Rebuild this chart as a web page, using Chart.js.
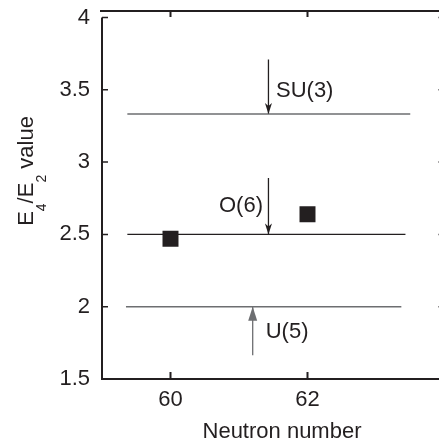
<!DOCTYPE html>
<html>
<head>
<meta charset="utf-8">
<script src="https://cdn.jsdelivr.net/npm/chart.js@4/dist/chart.umd.min.js"></script>
<style>
    html, body { margin: 0; padding: 0; background: #fff; overflow: hidden; }
    #wrap { width: 450px; height: 446px; }
</style>
</head>
<body>
<div id="wrap"><canvas id="chart" width="450" height="446"></canvas></div>
<script>
// Axis ticks
const xTicks = [60, 62];
const yTicks = [1.5, 2, 2.5, 3, 3.5, 4];

// Measured E4/E2 ratios
const neutrons = [60, 62];
const ratios = [2.47, 2.64];

// Symmetry limits (horizontal lines)
const limitNames = ['SU(3)', 'O(6)', 'U(5)'];
const limitValues = [3.333, 2.5, 2.0];
const limitStart = [59.37, 59.37, 59.35];
const limitEnd = [63.5, 63.43, 63.37];

// Arrows pointing at the limits
const arrowX = [61.43, 61.43, 61.2];
const arrowFrom = [3.71, 2.89, 1.665];

// Label positions
const labelX = [61.54, 61.35, 61.39];
const labelY = [3.495, 2.695, 1.824];
const labelAlign = ['left', 'right', 'left'];

// Colors
const ink = '#231f20';
const grey = '#6d6e71';
const limitColors = [grey, ink, grey];
const arrowColors = [ink, ink, grey];

const font = '"Liberation Sans", Arial, Helvetica, sans-serif';

// Build datasets
const datasets = [];
limitNames.forEach((name, i) => {
    datasets.push({
        label: name,
        data: [{ x: limitStart[i], y: limitValues[i] }, { x: limitEnd[i], y: limitValues[i] }],
        showLine: true,
        borderColor: limitColors[i],
        borderWidth: 1.4,
        pointRadius: 0
    });
});
limitNames.forEach((name, i) => {
    datasets.push({
        label: name + ' arrow',
        arrow: i,
        data: [{ x: arrowX[i], y: arrowFrom[i] }, { x: arrowX[i], y: limitValues[i] }],
        showLine: true,
        borderColor: arrowColors[i],
        borderWidth: 1.3,
        pointRadius: 0
    });
});
datasets.push({
    label: 'Experiment',
    data: neutrons.map((n, i) => ({ x: n, y: ratios[i] })),
    pointStyle: 'rect',
    pointRadius: 11.3,
    borderWidth: 0,
    backgroundColor: ink
});

// Arrowheads, frame, labels and titles
const decorPlugin = {
    id: 'decor',
    afterDatasetsDraw(chart) {
        const { ctx } = chart;
        ctx.save();
        chart.data.datasets.forEach((ds, di) => {
            if (ds.arrow === undefined) return;
            const pts = chart.getDatasetMeta(di).data;
            const tip = pts[1], tail = pts[0];
            const dir = Math.sign(tip.y - tail.y);
            ctx.fillStyle = ds.borderColor;
            ctx.beginPath();
            if (ds.arrow === 2) {
                // filled triangle
                ctx.moveTo(tip.x, tip.y);
                ctx.lineTo(tip.x - 4.5, tip.y - dir * 14);
                ctx.lineTo(tip.x + 4.5, tip.y - dir * 14);
            } else {
                // notched head
                ctx.moveTo(tip.x, tip.y);
                ctx.lineTo(tip.x - 3.5, tip.y - dir * 11);
                ctx.lineTo(tip.x, tip.y - dir * 8);
                ctx.lineTo(tip.x + 3.5, tip.y - dir * 11);
            }
            ctx.closePath();
            ctx.fill();
        });
        ctx.restore();
    },
    afterDraw(chart) {
        const { ctx, chartArea: a, scales: { x, y } } = chart;
        ctx.save();
        ctx.strokeStyle = ink;
        ctx.lineWidth = 2;
        ctx.beginPath();
        ctx.moveTo(a.left, a.top);
        ctx.lineTo(a.left, a.bottom);
        ctx.lineTo(a.right, a.bottom);
        ctx.moveTo(a.right, a.top);
        ctx.lineTo(a.right, a.bottom);
        ctx.moveTo(a.left - 2, a.top - 6.5);
        ctx.lineTo(a.right, a.top - 6.5);
        ctx.stroke();

        // inward ticks
        ctx.beginPath();
        xTicks.forEach(v => {
            const px = x.getPixelForValue(v);
            ctx.moveTo(px, a.bottom);
            ctx.lineTo(px, a.bottom - 7);
            ctx.moveTo(px, a.top - 6.5);
            ctx.lineTo(px, a.top - 0.5);
        });
        ctx.stroke();
        ctx.lineWidth = 1.5;
        ctx.beginPath();
        yTicks.forEach(v => {
            const py = y.getPixelForValue(v);
            ctx.moveTo(a.left, py);
            ctx.lineTo(a.left + 6, py);
            ctx.moveTo(a.right, py);
            ctx.lineTo(a.right - 6, py);
        });
        ctx.stroke();

        // limit labels
        ctx.fillStyle = ink;
        ctx.font = '22px ' + font;
        ctx.textBaseline = 'middle';
        limitNames.forEach((name, i) => {
            ctx.textAlign = labelAlign[i];
            ctx.fillText(name, x.getPixelForValue(labelX[i]), y.getPixelForValue(labelY[i]));
        });

        // x title
        ctx.textAlign = 'center';
        ctx.fillText('Neutron number', 282, 432);

        // y title with subscripts
        const parts = [['E', 0], ['4', 1], ['/E', 0], ['2', 1], [' value', 0]];
        const widthOf = p => {
            ctx.font = (p[1] ? '14px ' : '22px ') + font;
            return ctx.measureText(p[0]).width;
        };
        const total = parts.reduce((s, p) => s + widthOf(p), 0);
        ctx.translate(33, 171);
        ctx.rotate(-Math.PI / 2);
        ctx.textAlign = 'left';
        ctx.textBaseline = 'alphabetic';
        let cx = -total / 2;
        parts.forEach(p => {
            const w = widthOf(p);
            ctx.fillText(p[0], cx, p[1] ? 13 : 0);
            cx += w;
        });
        ctx.restore();
    }
};

// invisible tick marks keep the label gap without padding the layout too much
const hiddenX = { display: true, drawOnChartArea: false, drawTicks: true, tickLength: 6, color: 'rgba(0,0,0,0)' };
const hiddenY = { display: true, drawOnChartArea: false, drawTicks: true, tickLength: 8, color: 'rgba(0,0,0,0)' };

new Chart(document.getElementById('chart'), {
    type: 'scatter',
    data: { datasets },
    options: {
        responsive: false,
        animation: false,
        layout: { autoPadding: false, padding: { top: 17.5, right: 5.5, left: 0, bottom: 0 } },
        plugins: { legend: { display: false }, tooltip: { enabled: false } },
        scales: {
            x: {
                type: 'linear',
                min: 59,
                max: 64,
                afterBuildTicks: s => { s.ticks = xTicks.map(v => ({ value: v })); },
                afterFit: s => { s.height = 67; },
                grid: hiddenX,
                border: { display: false },
                ticks: { color: ink, font: { family: font, size: 22 }, padding: 2, callback: v => String(v) }
            },
            y: {
                min: 1.5,
                max: 4,
                afterBuildTicks: s => { s.ticks = yTicks.map(v => ({ value: v })); },
                afterFit: s => { s.width = 102; },
                grid: hiddenY,
                border: { display: false },
                ticks: { color: ink, font: { family: font, size: 22 }, padding: 4, callback: v => String(v) }
            }
        }
    },
    plugins: [decorPlugin]
});
</script>
</body>
</html>
